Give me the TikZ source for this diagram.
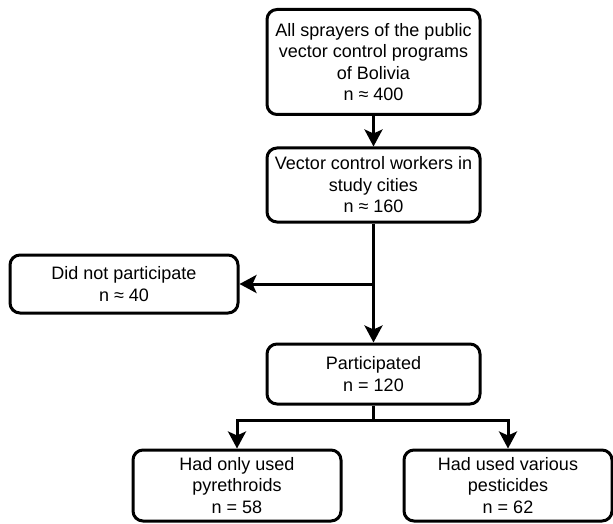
\documentclass[tikz,border=0pt]{standalone}
\usepackage{fontspec}
\setmainfont{Liberation Sans}
\usetikzlibrary{arrows.meta}
\begin{document}
\begin{tikzpicture}[x=1pt,y=-1pt,
  box/.style={draw=black, line width=3pt, rounded corners=10pt, fill=white,
    align=center, inner sep=0pt, font=\fontsize{18pt}{21.5pt}\selectfont},
  conn/.style={draw=black, line width=3pt},
  arr/.style={conn, -{Stealth[length=17pt,width=18pt,inset=4pt]}}
]
\useasboundingbox (0,0) rectangle (613,524);
\node[box, minimum width=213pt, minimum height=105pt] (b1) at (373.5,62)
  {All sprayers of the public\\vector control programs\\of Bolivia\\n ≈ 400};
\node[box, minimum width=213pt, minimum height=74pt] (b2) at (373.5,185)
  {Vector control workers in\\study cities\\n ≈ 160};
\node[box, minimum width=228pt, minimum height=58pt] (b3) at (124,284)
  {Did not participate\\n ≈ 40};
\node[box, minimum width=213pt, minimum height=60pt] (b4) at (373.5,374)
  {Participated\\n = 120};
\node[box, minimum width=208pt, minimum height=71pt] (b5) at (237,485.5)
  {Had only used\\pyrethroids\\n = 58};
\node[box, minimum width=208pt, minimum height=71pt] (b6) at (508,485.5)
  {Had used various\\pesticides\\n = 62};
\coordinate (j1) at (b2.south |- b3.east);
\coordinate (s) at (373.5,420);
\draw[arr] (b1) -- (b2);
\draw[arr] (b2.south) -- (b4.north);
\draw[arr] (j1) -- (b3.east);
\draw[conn] (b4.south) -- (s);
\draw[arr] (s) -| (b5.north);
\draw[arr] (s) -| (b6.north);
\end{tikzpicture}
\end{document}
